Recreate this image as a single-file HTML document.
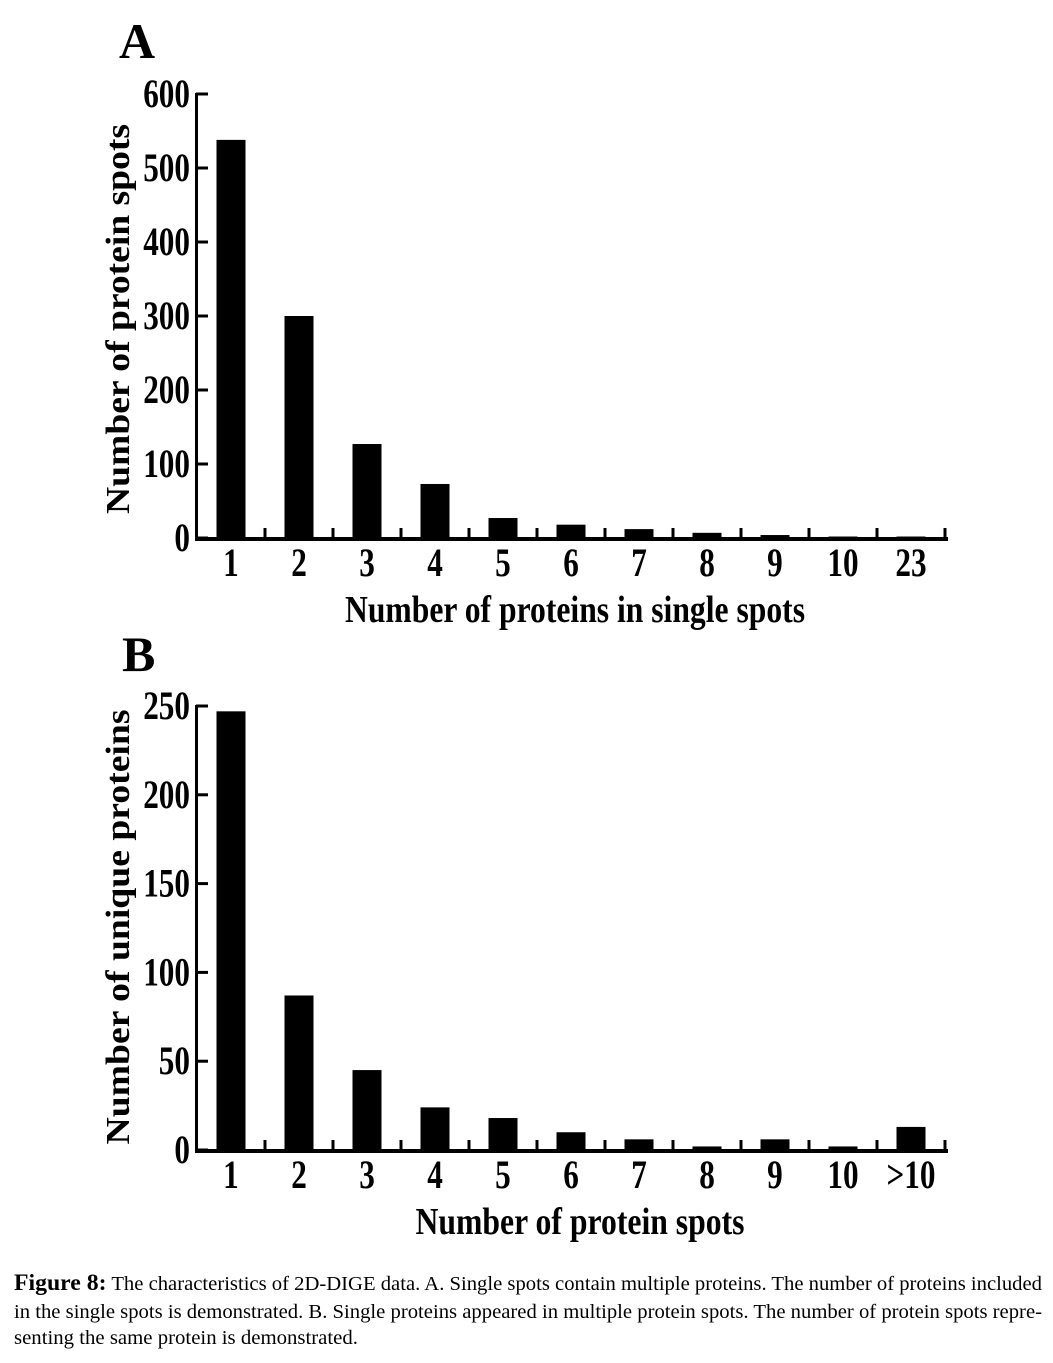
<!DOCTYPE html>
<html><head><meta charset="utf-8"><style>
html,body{margin:0;padding:0;background:#fff;}
svg text{font-family:"Liberation Serif",serif;}
</style></head><body>
<svg id="fig" width="1053" height="1358" viewBox="0 0 1053 1358" xmlns="http://www.w3.org/2000/svg">
<text x="119" y="58" font-size="50" font-weight="bold">A</text>
<text x="122" y="671" font-size="50" font-weight="bold">B</text>
<g id="chartA"></g>
<g id="chartB"></g>
<g font-size="20">
<text x="14" y="1290" textLength="1028" lengthAdjust="spacingAndGlyphs"><tspan font-weight="bold" font-size="23">Figure 8:</tspan> The characteristics of 2D-DIGE data. A. Single spots contain multiple proteins. The number of proteins included</text>
<text x="14" y="1318" textLength="1028" lengthAdjust="spacingAndGlyphs">in the single spots is demonstrated. B. Single proteins appeared in multiple protein spots. The number of protein spots repre-</text>
<text x="14" y="1344" textLength="344" lengthAdjust="spacingAndGlyphs">senting the same protein is demonstrated.</text>
</g>
</svg>
<script>
const catsA = ["1","2","3","4","5","6","7","8","9","10","23"];
const valsA = [538,300,127,73,27,18,12,7,4,2,2];
const ticksA = [0,100,200,300,400,500,600];
const catsB = ["1","2","3","4","5","6","7","8","9","10",">10"];
const valsB = [247,87,45,24,18,10,6,2,6,2,13];
const ticksB = [0,50,100,150,200,250];
const NS="http://www.w3.org/2000/svg";
function mk(parent,tag,attrs,txt){const e=document.createElementNS(NS,tag);for(const k in attrs)e.setAttribute(k,attrs[k]);if(txt!==undefined)e.textContent=txt;parent.appendChild(e);return e;}
function draw(gid,cats,vals,ticks,y0,yTop,xTitle,yTitle,xTitleX,xTitleW,yTitleY,yTitleW,prefix){
  const g=document.getElementById(gid);
  const x0=196,xEnd=947,step=68,bw=29;
  const maxV=ticks[ticks.length-1];
  const ys=v=>y0-(v/maxV)*(y0-yTop);
  const xc=i=>x0+35+i*step;
  cats.forEach((c,i)=>{
    const r=mk(g,'rect',{x:xc(i)-bw/2,y:ys(vals[i]),width:bw,height:y0-ys(vals[i]),fill:'#000'});
    
    
    const t=mk(g,'text',{x:xc(i),y:y0+38,'font-size':40,'font-weight':'bold','text-anchor':'middle',transform:`translate(${xc(i)},0) scale(0.78,1) translate(${-xc(i)},0)`},c);
    
    
    const tk=mk(g,'rect',{x:xc(i)+step/2-1.5,y:y0-10,width:3,height:10,fill:'#000'});
    
    
  });
  const xa=mk(g,'rect',{x:x0-1,y:y0-1,width:xEnd-x0+2,height:4,fill:'#000'});
  
  
  const ya=mk(g,'rect',{x:x0-1,y:yTop-1,width:3,height:y0-yTop+3,fill:'#000'});
  
  
  ticks.forEach(v=>{
    const tk=mk(g,'rect',{x:x0,y:ys(v)-1.5,width:12,height:3,fill:'#000'});
    
    
    const t=mk(g,'text',{x:190,y:ys(v)+13,'font-size':40,'font-weight':'bold','text-anchor':'end',transform:`translate(190,0) scale(0.78,1) translate(-190,0)`},String(v));
    
    
  });
  const xt=mk(g,'text',{x:xTitleX-xTitleW/2,y:y0+84,'font-size':38,'font-weight':'bold',textLength:xTitleW,lengthAdjust:'spacingAndGlyphs'},xTitle);
  
  
  const yt=mk(g,'text',{x:-yTitleW/2,y:0,'font-size':34,'font-weight':'bold',textLength:yTitleW,lengthAdjust:'spacingAndGlyphs',transform:`translate(129,${yTitleY}) rotate(-90)`},yTitle);
  
  
}
draw('chartA',catsA,valsA,ticksA,538,94,'Number of proteins in single spots','Number of protein spots',575,460,319,390,'a');
draw('chartB',catsB,valsB,ticksB,1150,706,'Number of protein spots','Number of unique proteins',580,329,927,435,'b');
</script>
</body></html>
